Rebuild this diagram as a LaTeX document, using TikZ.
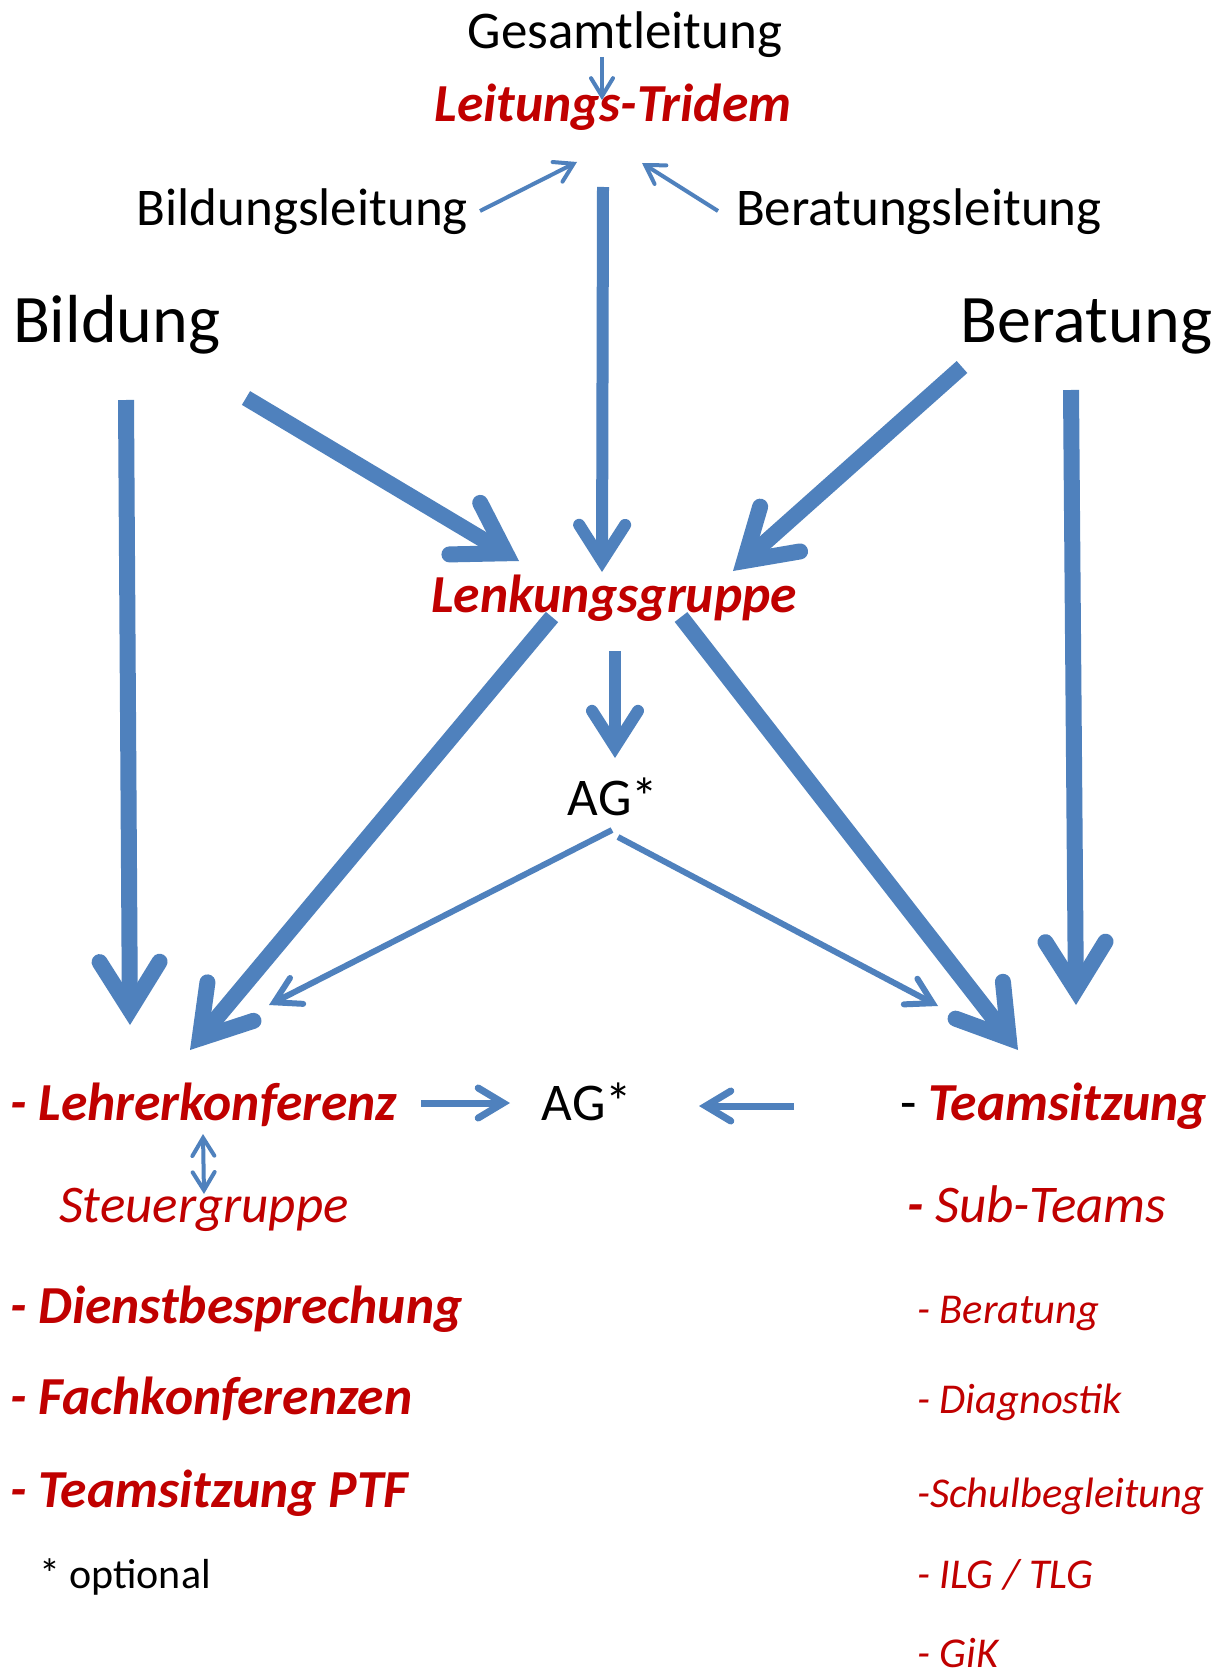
\documentclass[tikz,border=0pt]{standalone}
\usepackage{fontspec}
\setmainfont{Carlito}
\usetikzlibrary{arrows.meta}
\definecolor{accent}{HTML}{4F81BD}
\definecolor{dred}{HTML}{C00000}
\begin{document}
\begin{tikzpicture}[x=1pt,y=-1pt,
  lbl/.style={inner sep=0pt, outer sep=0pt},
  bigtxt/.style={lbl, font=\fontsize{68}{80}\selectfont},
  normtxt/.style={lbl, font=\fontsize{53}{64}\selectfont},
  headtxt/.style={lbl, text=dred, font=\fontsize{53.5}{64}\selectfont\bfseries\itshape},
  ittxt/.style={lbl, text=dred, font=\fontsize{53}{64}\selectfont\itshape},
  smtxt/.style={lbl, text=dred, font=\fontsize{42.5}{50}\selectfont\itshape},
  notetxt/.style={lbl, font=\fontsize{42}{50}\selectfont},
  arrA/.style={draw=accent, line width=16pt, -{Straight Barb[length=48pt, width=60pt, line cap=round, line join=miter]}},
  arrB/.style={draw=accent, line width=12pt, -{Straight Barb[length=36pt, width=46pt, line cap=round, line join=miter]}},
  arrC/.style={draw=accent, line width=6pt, -{Straight Barb[length=25pt, width=29pt, line cap=round, line join=miter]}},
  arrD/.style={draw=accent, line width=7pt, -{Straight Barb[length=25pt, width=30pt, line cap=round, line join=miter]}},
  arrE/.style={draw=accent, line width=4pt, -{Straight Barb[length=18pt, width=22pt, line cap=round, line join=miter]}},
  dblE/.style={draw=accent, line width=4pt, {Straight Barb[length=18pt, width=22pt, line cap=round, line join=miter]}-{Straight Barb[length=18pt, width=22pt, line cap=round, line join=miter]}},
]
\useasboundingbox (0,0) rectangle (1227,1669);
\fill[white] (0,0) rectangle (1227,1669);

% texts
\node[normtxt, anchor=base] (gesamt) at (625,49) {Gesamtleitung};
\node[headtxt, anchor=base] (tridem) at (613,122) {Leitungs-Tridem};
\node[normtxt, anchor=base east] (bildl) at (468,226) {Bildungsleitung};
\node[normtxt, anchor=base west] (beratl) at (736,226) {Beratungsleitung};
\node[bigtxt, anchor=base west] (bildung) at (13,342) {Bildung};
\node[bigtxt, anchor=base east] (beratung) at (1212,342) {Beratung};
\node[headtxt, anchor=base] (lenk) at (614,612) {Lenkungsgruppe};
\node[normtxt, anchor=base] (ag1) at (613,815) {AG*};
\node[headtxt, anchor=base west] (lehrer) at (10,1120) {- Lehrerkonferenz};
\node[normtxt, anchor=base] (ag2) at (587,1120) {AG*};
\node[headtxt, anchor=base west] (team) at (900,1120) {\textcolor{black}{\normalfont -} Teamsitzung};
\node[ittxt, anchor=base west] (steuer) at (59,1222) {Steuergruppe};
\node[ittxt, anchor=base west] (sub) at (907,1222) {\textbf{-} Sub-Teams};
\node[headtxt, anchor=base west] (dienst) at (10,1323) {- Dienstbesprechung};
\node[headtxt, anchor=base west] (fach) at (10,1414) {- Fachkonferenzen};
\node[headtxt, anchor=base west] (ptf) at (10,1507) {- Teamsitzung PTF};
\node[notetxt, anchor=base west] (opt) at (39,1588) {* optional};
\node[smtxt, anchor=base west] (s1) at (917,1323) {- Beratung};
\node[smtxt, anchor=base west] (s2) at (917,1413) {- Diagnostik};
\node[smtxt, anchor=base west] (s3) at (917,1507) {-Schulbegleitung};
\node[smtxt, anchor=base west] (s4) at (917,1588) {- ILG / TLG};
\node[smtxt, anchor=base west] (s5) at (917,1667) {- GiK};

% connector end points
\coordinate (gesamt-o) at (602,57);
\coordinate (tridem-i1) at (602,100);
\coordinate (bildl-o) at (480,211);
\coordinate (tridem-i2) at (577,162);
\coordinate (beratl-o) at (718,211);
\coordinate (tridem-i3) at (642,163);
\coordinate (tridem-o) at (603,187);
\coordinate (lenk-i1) at (602,572);
\coordinate (bildung-o1) at (126,400);
\coordinate (lehrer-i1) at (130,1025);
\coordinate (bildung-o2) at (246,398);
\coordinate (lenk-i2) at (519,561);
\coordinate (beratung-o1) at (962,367);
\coordinate (lenk-i3) at (733,571);
\coordinate (beratung-o2) at (1071,390);
\coordinate (team-i1) at (1076,1005);
\coordinate (lenk-o1) at (552,617);
\coordinate (lehrer-i2) at (190,1050);
\coordinate (lenk-o2) at (681,617);
\coordinate (team-i2) at (1018,1050);
\coordinate (lenk-o3) at (615,651);
\coordinate (ag1-i) at (615,758);
\coordinate (ag1-o1) at (612,830);
\coordinate (lehrer-i3) at (269,1005);
\coordinate (ag1-o2) at (618,837);
\coordinate (team-i3) at (938,1006);
\coordinate (lehrer-o) at (421,1103);
\coordinate (ag2-i1) at (510,1103);
\coordinate (team-o) at (794,1106);
\coordinate (ag2-i2) at (699,1106);
\coordinate (lehrer-s) at (203,1134);
\coordinate (steuer-n) at (204,1194);

% connectors
\draw[arrE] (gesamt-o) -- (tridem-i1);
\draw[arrE] (bildl-o) -- (tridem-i2);
\draw[arrE] (beratl-o) -- (tridem-i3);
\draw[arrB] (tridem-o) -- (lenk-i1);
\draw[arrA] (bildung-o1) -- (lehrer-i1);
\draw[arrA] (bildung-o2) -- (lenk-i2);
\draw[arrA] (beratung-o1) -- (lenk-i3);
\draw[arrA] (beratung-o2) -- (team-i1);
\draw[arrA] (lenk-o1) -- (lehrer-i2);
\draw[arrA] (lenk-o2) -- (team-i2);
\draw[arrB] (lenk-o3) -- (ag1-i);
\draw[arrC] (ag1-o1) -- (lehrer-i3);
\draw[arrC] (ag1-o2) -- (team-i3);
\draw[arrD] (lehrer-o) -- (ag2-i1);
\draw[arrD] (team-o) -- (ag2-i2);
\draw[dblE] (lehrer-s) -- (steuer-n);
\end{tikzpicture}
\end{document}
